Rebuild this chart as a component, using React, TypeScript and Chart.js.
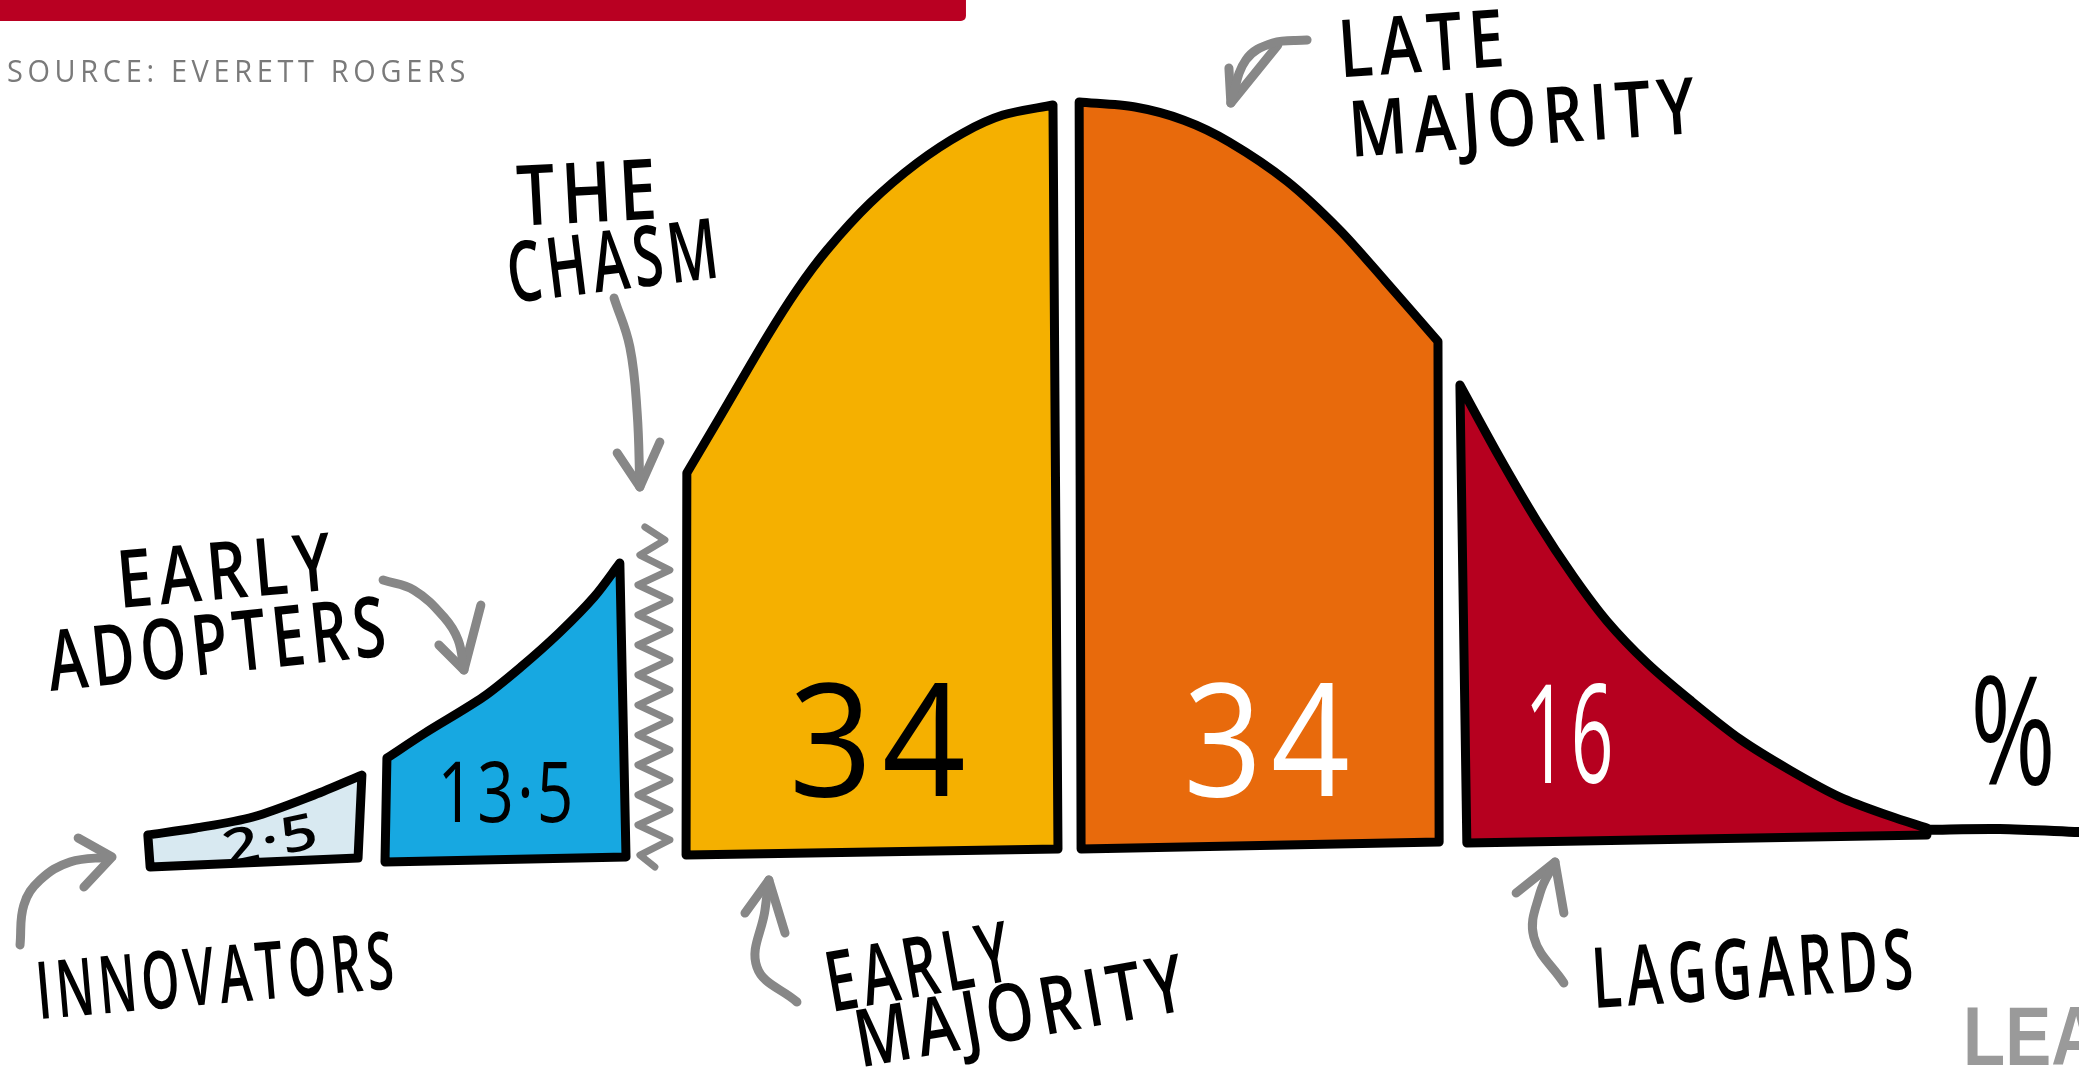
import React, { useEffect, useRef } from "react";
import { Chart, registerables } from "chart.js";

Chart.register(...registerables);

// ---------- DATA ----------
// x: adoption time in standard deviations from the mean, y: adopter density in % of the peak
const SEGMENT_NAMES = ["INNOVATORS", "EARLY ADOPTERS", "EARLY MAJORITY", "LATE MAJORITY", "LAGGARDS"];
const SEGMENT_SHARES = [2.5, 13.5, 34, 34, 16];

const INNOVATORS_TOP = [[-2.39, 3.31], [-2.265, 4.23], [-2.117, 5.69], [-1.958, 8.6], [-1.834, 11.24]];
const INNOVATORS_BASE = [[-1.844, 0.26], [-2.384, -0.93]];

const EARLY_ADOPTERS_TOP = [[-1.769, 13.49], [-1.67, 16.8], [-1.519, 21.56], [-1.421, 25.53], [-1.322, 30.03], [-1.231, 34.79], [-1.164, 39.29]];
const EARLY_ADOPTERS_BASE = [[-1.148, 0.4], [-1.774, -0.26]];

const EARLY_MAJORITY_TOP = [[-0.99, 51.19], [-0.904, 58.6], [-0.782, 69.18], [-0.704, 75.4], [-0.626, 80.69], [-0.514, 86.9], [-0.392, 92.2], [-0.273, 96.16], [-0.169, 98.54], [-0.039, 99.87]];
const EARLY_MAJORITY_BASE = [[-0.026, 1.46], [-0.992, 0.66]];

const LATE_MAJORITY_TOP = [[0.029, 100.26], [0.174, 99.6], [0.301, 97.86], [0.418, 95.0], [0.569, 89.79], [0.706, 83.33], [0.823, 76.67], [0.961, 68.6]];
const LATE_MAJORITY_BASE = [[0.964, 2.38], [0.034, 1.46]];

const LAGGARDS_TOP = [[1.018, 62.83], [1.122, 53.17], [1.218, 44.84], [1.312, 37.57], [1.4, 31.61], [1.504, 26.06], [1.616, 21.16], [1.745, 16.01], [1.875, 11.9], [2.005, 8.33], [2.135, 5.82], [2.231, 4.23]];
const LAGGARDS_BASE = [[2.231, 3.31], [1.036, 2.25]];

const TAIL = [[2.231, 4.0], [2.42, 4.1], [2.626, 3.7]];

const CHASM = [[-1.099, 44.05], [-1.047, 42.33], [-1.112, 40.34], [-1.034, 38.36], [-1.117, 36.38], [-1.034, 34.39], [-1.117, 32.41], [-1.034, 30.42], [-1.117, 28.44], [-1.034, 26.46], [-1.117, 24.47], [-1.034, 22.49], [-1.117, 20.5], [-1.034, 18.52], [-1.117, 16.53], [-1.034, 14.55], [-1.117, 12.57], [-1.034, 10.58], [-1.117, 8.6], [-1.034, 6.61], [-1.117, 4.63], [-1.034, 2.65], [-1.112, 0.66], [-1.073, -0.93]];

// annotation arrows (shaft, head)
const ARROW_INNOVATORS = [[-2.722, -11.24], [-2.712, -5.95], [-2.67, -2.65], [-2.592, -0.26], [-2.488, 0.4]];
const HEAD_INNOVATORS = [[-2.571, 2.91], [-2.483, 0.4], [-2.556, -3.57]];
const ARROW_EARLY_ADOPTERS = [[-1.779, 37.04], [-1.699, 35.71], [-1.621, 32.14], [-1.584, 29.1], [-1.569, 25.13]];
const HEAD_EARLY_ADOPTERS = [[-1.634, 28.44], [-1.569, 25.13], [-1.525, 33.73]];
const ARROW_CHASM = [[-1.179, 74.34], [-1.138, 67.86], [-1.119, 59.13], [-1.112, 49.34]];
const HEAD_CHASM = [[-1.171, 53.84], [-1.112, 49.34], [-1.06, 55.29]];
const ARROW_EARLY_MAJORITY = [[-0.704, -18.78], [-0.808, -14.15], [-0.787, -6.61], [-0.777, -2.65]];
const HEAD_EARLY_MAJORITY = [[-0.839, -7.01], [-0.777, -2.65], [-0.735, -9.66]];
const ARROW_LATE_MAJORITY = [[0.621, 108.47], [0.532, 108.07], [0.462, 105.82], [0.423, 100.13]];
const HEAD_LATE_MAJORITY = [[0.418, 104.76], [0.423, 100.13], [0.545, 107.8]];
const ARROW_LAGGARDS = [[1.288, -16.27], [1.21, -10.19], [1.226, -4.37], [1.265, -0.26]];
const HEAD_LAGGARDS = [[1.164, -4.37], [1.265, -0.26], [1.288, -7.01]];

const SOURCE_TEXT = "SOURCE: EVERETT ROGERS";

// ---------- STYLE / LAYOUT ----------
const W = 2079;
const H = 1077;
const X_RANGE = [-2.774, 2.626];
const Y_RANGE = [-28.7, 113.76];
const SEGMENT_FILLS = ["#d8e9f1", "#17a8e1", "#f5b000", "#e86a0c", "#b6001f"];
const SHARE_COLORS = ["#000", "#000", "#000", "#fff", "#fff"];
const GRAY = "#878787";
const LABEL_FONT = '"Open Sans", "DejaVu Sans", sans-serif';

type Lab = { text: string; x: number; y: number; size: number; width?: number; angle?: number; color?: string; weight?: number; align?: "left" | "center"; family?: string; spacing?: number; sx?: number };

const shareText = (v: number) => String(v).replace(".", "·");

const LABELS: Lab[] = [
  { text: "THE", x: -1.242, y: 88.36, size: 84, width: 146, angle: -3 },
  { text: "CHASM", x: -1.177, y: 79.37, size: 84, width: 217, angle: -7 },
  { text: SEGMENT_NAMES[1].split(" ")[0], x: -2.184, y: 38.36, size: 80, width: 221, angle: -5 },
  { text: SEGMENT_NAMES[1].split(" ")[1], x: -2.205, y: 28.7, size: 84, width: 345, angle: -6 },
  { text: SEGMENT_NAMES[0], x: -2.21, y: -15.21, size: 80, width: 363, angle: -5 },
  { text: SEGMENT_NAMES[2].split(" ")[0], x: -0.384, y: -14.02, size: 84, width: 191, angle: -10 },
  { text: SEGMENT_NAMES[2].split(" ")[1], x: -0.119, y: -19.84, size: 80, width: 339, angle: -10 },
  { text: SEGMENT_NAMES[3].split(" ")[0], x: 0.925, y: 108.07, size: 80, width: 172, angle: -4 },
  { text: SEGMENT_NAMES[3].split(" ")[1], x: 1.187, y: 98.28, size: 78, width: 353, angle: -4 },
  { text: SEGMENT_NAMES[4], x: 1.784, y: -14.29, size: 84, width: 327, angle: -3.5 },
  { text: shareText(SEGMENT_SHARES[0]), x: -2.07, y: 2.8, size: 50, width: 98, angle: -12, weight: 600, spacing: 2 },
  { text: shareText(SEGMENT_SHARES[1]), x: -1.457, y: 8.99, size: 84, width: 139, weight: 500, spacing: 4 },
  { text: shareText(SEGMENT_SHARES[2]), x: -0.483, y: 15.87, size: 158, width: 186, weight: 400, color: SHARE_COLORS[2], spacing: 10 },
  { text: shareText(SEGMENT_SHARES[3]), x: 0.527, y: 15.87, size: 158, width: 175, weight: 400, color: SHARE_COLORS[3], spacing: 10 },
  { text: shareText(SEGMENT_SHARES[4]), x: 1.306, y: 16.67, size: 137, width: 92, weight: 400, color: SHARE_COLORS[4], spacing: 6 },
  { text: "%", x: 2.462, y: 17.06, size: 150, width: 91, weight: 400 },
  { text: SOURCE_TEXT, x: -2.756, y: 104.37, size: 31, width: 463, weight: 400, color: "#7a7a7a", align: "left", spacing: 5 },
  { text: "LEA", x: 2.325, y: -23.15, size: 84, weight: 700, color: "#9a9a9a", align: "left", family: '"Liberation Sans", Arial, sans-serif', spacing: 0, sx: 0.82 },
];

const pts = (a: number[][]) => a.map(([x, y]) => ({ x, y }));

function polygon(top: number[][], base: number[][]) {
  const first = top[0];
  const last = top[top.length - 1];
  const out: number[][] = [...top, last];
  base.forEach((p) => { out.push(p, p); });
  out.push(first, first);
  return pts(out);
}

const labelPlugin = {
  id: "sketchLabels",
  afterDatasetsDraw(chart: any) {
    const ctx = chart.ctx as CanvasRenderingContext2D;
    const xs = chart.scales.x;
    const ys = chart.scales.y;
    // red header bar
    ctx.save();
    ctx.fillStyle = "#b90022";
    const barRight = xs.getPixelForValue(-0.265);
    ctx.beginPath();
    (ctx as any).roundRect(-10, -10, barRight + 10, 31, 5);
    ctx.fill();
    ctx.restore();

    LABELS.forEach((lab) => {
      const px = xs.getPixelForValue(lab.x);
      const py = ys.getPixelForValue(lab.y);
      ctx.save();
      ctx.translate(px, py);
      ctx.rotate(((lab.angle || 0) * Math.PI) / 180);
      ctx.font = `${lab.weight ?? 600} ${lab.size}px ${lab.family || LABEL_FONT}`;
      (ctx as any).letterSpacing = `${lab.spacing ?? 8}px`;
      const w = ctx.measureText(lab.text).width;
      const sx = lab.sx ?? (lab.width ? lab.width / w : 1);
      ctx.scale(sx, 1);
      ctx.fillStyle = lab.color || "#000";
      ctx.textAlign = lab.align === "left" ? "left" : "center";
      ctx.textBaseline = "alphabetic";
      ctx.fillText(lab.text, 0, (lab.size * 0.714) / 2);
      ctx.restore();
    });
  },
};

export default function App() {
  const ref = useRef<HTMLCanvasElement | null>(null);

  useEffect(() => {
    document.body.style.margin = "0";
    document.body.style.background = "#fff";
    if (!ref.current) return;

    const seg = (top: number[][], base: number[][], i: number) => ({
      label: SEGMENT_NAMES[i],
      data: polygon(top, base),
      fill: "shape",
      backgroundColor: SEGMENT_FILLS[i],
      borderColor: "#000",
      borderWidth: 9,
      tension: 0.3,
      borderJoinStyle: "round",
      borderCapStyle: "round",
      pointRadius: 0,
    });
    const stroke = (data: number[][], color: string, width: number, tension = 0) => ({
      data: pts(data),
      fill: false,
      borderColor: color,
      borderWidth: width,
      tension,
      borderJoinStyle: "round",
      borderCapStyle: "round",
      pointRadius: 0,
    });

    const chart = new Chart(ref.current, {
      type: "line",
      data: {
        datasets: [
          seg(INNOVATORS_TOP, INNOVATORS_BASE, 0),
          seg(EARLY_ADOPTERS_TOP, EARLY_ADOPTERS_BASE, 1),
          seg(EARLY_MAJORITY_TOP, EARLY_MAJORITY_BASE, 2),
          seg(LATE_MAJORITY_TOP, LATE_MAJORITY_BASE, 3),
          seg(LAGGARDS_TOP, LAGGARDS_BASE, 4),
          stroke(TAIL, "#000", 10, 0.3),
          stroke(CHASM, GRAY, 7, 0),
          stroke(ARROW_INNOVATORS, GRAY, 9, 0.4),
          stroke(HEAD_INNOVATORS, GRAY, 9),
          stroke(ARROW_EARLY_ADOPTERS, GRAY, 9, 0.4),
          stroke(HEAD_EARLY_ADOPTERS, GRAY, 9),
          stroke(ARROW_CHASM, GRAY, 9, 0.4),
          stroke(HEAD_CHASM, GRAY, 9),
          stroke(ARROW_EARLY_MAJORITY, GRAY, 9, 0.4),
          stroke(HEAD_EARLY_MAJORITY, GRAY, 9),
          stroke(ARROW_LATE_MAJORITY, GRAY, 9, 0.4),
          stroke(HEAD_LATE_MAJORITY, GRAY, 9),
          stroke(ARROW_LAGGARDS, GRAY, 9, 0.4),
          stroke(HEAD_LAGGARDS, GRAY, 9),
        ] as any,
      },
      options: {
        responsive: false,
        maintainAspectRatio: false,
        animation: false,
        devicePixelRatio: 1,
        events: [],
        layout: { padding: 0 },
        scales: {
          x: { type: "linear", min: X_RANGE[0], max: X_RANGE[1], display: false },
          y: { type: "linear", min: Y_RANGE[0], max: Y_RANGE[1], display: false },
        },
        plugins: {
          legend: { display: false },
          title: { display: false },
          tooltip: { enabled: false },
        },
        datasets: { line: { clip: false as any } },
      } as any,
      plugins: [labelPlugin],
    });
    return () => chart.destroy();
  }, []);

  return (
    <div style={{ width: W, height: H, position: "relative", background: "#fff", overflow: "hidden" }}>
      <canvas ref={ref} width={W} height={H} style={{ display: "block", width: W, height: H }} />
    </div>
  );
}
